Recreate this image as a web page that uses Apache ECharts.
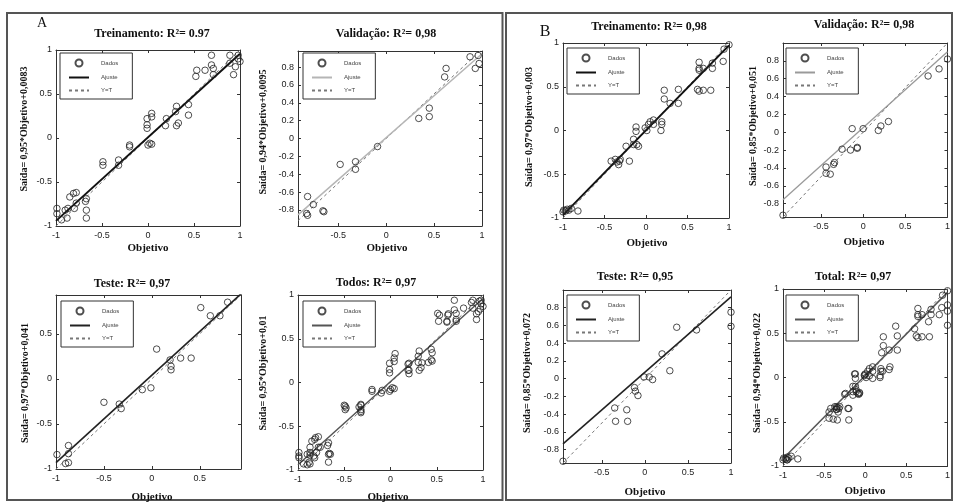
<!DOCTYPE html>
<html><head><meta charset="utf-8">
<script src="https://cdn.jsdelivr.net/npm/echarts@6.0.0/dist/echarts.min.js"></script>
<style>html,body{margin:0;padding:0;background:#fff}#c{width:953px;height:502px}</style>
</head><body><div id="c"></div><script>
// ---------- data ----------
const dadosA1 = [[0.69,0.94],[0.69,0.83],[0.71,0.79],[0.53,0.77],[0.52,0.70],[0.62,0.77],[0.71,0.72],[0.89,0.94],[0.93,0.72],[0.98,0.94],[1.00,0.87],[0.98,0.90],[0.89,0.85],[0.95,0.81],
 [0.31,0.36],[0.30,0.30],[0.33,0.17],[0.31,0.14],[0.20,0.22],[0.19,0.14],[0.44,0.38],[0.44,0.26],[-0.01,0.22],[-0.01,0.15],[-0.01,0.11],[0.04,0.28],[0.04,0.24],[0.02,-0.06],[0.00,-0.08],[0.04,-0.07],
 [-0.20,-0.08],[-0.20,-0.10],[-0.32,-0.25],[-0.32,-0.31],[-0.49,-0.27],[-0.49,-0.31],[-0.81,-0.63],[-0.78,-0.62],[-0.85,-0.67],[-0.78,-0.74],[-0.67,-0.69],[-0.68,-0.72],[-0.67,-0.82],[-0.67,-0.91],
 [-0.99,-0.80],[-0.99,-0.86],[-0.88,-0.91],[-0.87,-0.80],[-0.80,-0.80],[-0.90,-0.82],[-0.94,-0.93]];
const dadosA2 = [[0.875,0.915],[0.93,0.785],[0.97,0.84],[0.96,0.93],[0.625,0.785],[0.61,0.69],[0.45,0.34],[0.45,0.245],[0.34,0.225],[-0.09,-0.09],[-0.32,-0.26],[-0.32,-0.345],[-0.48,-0.29],
 [-0.82,-0.65],[-0.76,-0.74],[-0.66,-0.81],[-0.65,-0.82],[-0.83,-0.84],[-0.82,-0.86]];
const dadosA3 = [[0.79,0.85],[0.51,0.79],[0.61,0.70],[0.71,0.70],[0.05,0.33],[0.19,0.21],[0.20,0.14],[0.20,0.10],[0.30,0.23],[0.41,0.23],[-0.10,-0.12],[-0.01,-0.10],[-0.50,-0.26],[-0.34,-0.28],[-0.32,-0.33],
 [-0.87,-0.74],[-0.99,-0.84],[-0.87,-0.83],[-0.87,-0.93],[-0.90,-0.94]];
const dadosB1 = [[1.00,0.98],[0.94,0.93],[0.93,0.79],[0.80,0.77],[0.80,0.71],[0.69,0.71],[0.64,0.78],[0.64,0.71],[0.64,0.69],[0.62,0.47],[0.64,0.45],[0.78,0.46],[0.69,0.46],
 [0.39,0.47],[0.39,0.31],[0.22,0.46],[0.22,0.36],[0.29,0.31],[0.09,0.12],[0.05,0.10],[0.03,0.07],[0.09,0.07],[0.19,0.10],[0.19,0.07],[0.18,0.00],[-0.01,0.03],[0.01,0.00],[-0.12,0.04],[-0.12,-0.01],
 [-0.15,-0.10],[-0.11,-0.16],[-0.09,-0.18],[-0.15,-0.16],[-0.24,-0.18],[-0.42,-0.35],[-0.37,-0.33],[-0.35,-0.36],[-0.32,-0.35],[-0.33,-0.39],[-0.31,-0.33],[-0.20,-0.35],
 [-0.99,-0.91],[-0.97,-0.92],[-0.93,-0.91],[-0.95,-0.90],[-1.00,-0.93],[-0.82,-0.92],[-0.90,-0.89]];
const dadosB2 = [[1.00,0.82],[0.90,0.71],[0.77,0.63],[0.30,0.12],[0.21,0.07],[0.18,0.02],[0.00,0.04],[-0.13,0.04],[-0.07,-0.17],[-0.07,-0.18],[-0.15,-0.20],[-0.25,-0.19],
 [-0.34,-0.34],[-0.35,-0.36],[-0.44,-0.39],[-0.44,-0.46],[-0.39,-0.47],[-0.95,-0.93]];
const dadosB3 = [[1.00,0.75],[1.00,0.59],[0.37,0.58],[0.60,0.55],[0.20,0.28],[0.29,0.09],[-0.01,0.02],[0.05,0.02],[0.09,-0.01],[-0.12,-0.10],[-0.11,-0.14],[-0.08,-0.19],
 [-0.35,-0.33],[-0.21,-0.35],[-0.34,-0.48],[-0.20,-0.48],[-0.95,-0.93]];
const dadosA4 = dadosA1.concat(dadosA2, dadosA3);   // "Todos" = all samples of A
const dadosB4 = dadosB1.concat(dadosB2, dadosB3);   // "Total" = all samples of B

const titles = ['Treinamento: R²= 0.97','Validação: R²= 0,98','Teste: R²= 0,97','Todos: R²= 0,97',
                'Treinamento: R²= 0,98','Validação: R²= 0,98','Teste: R²= 0,95','Total: R²= 0,97'];
const yNames = ['Saída= 0,95*Objetivo+0,0083','Saída= 0,94*Objetivo+0,0095','Saída= 0,97*Objetivo+0,041','Saída= 0,95*Objetivo+0,01',
                'Saída= 0,97*Objetivo+0,003','Saída= 0,85*Objetivo+0,051','Saída= 0,85*Objetivo+0,072','Saída= 0,94*Objetivo+0,022'];
const slopes = [0.95,0.94,0.97,0.95,0.97,0.85,0.85,0.94];
const intercepts = [0.0083,0.0095,0.041,0.01,0.003,0.051,0.072,0.022];
const axisRanges = [[-1,1,-1,1],[-0.92,1,-0.98,0.98],[-1,0.93,-1,0.93],[-1,1,-1,1],
                    [-1,1,-1,1],[-0.95,1,-0.95,1],[-0.95,1,-0.95,1],[-1,1,-1,1]];
const ticksHalf = [-1,-0.5,0,0.5,1];
const ticksFine = [-0.8,-0.6,-0.4,-0.2,0,0.2,0.4,0.6,0.8];
const xTickLabels = [ticksHalf,[-0.5,0,0.5,1],[-1,-0.5,0,0.5],ticksHalf,ticksHalf,[-0.5,0,0.5,1],[-0.5,0,0.5,1],ticksHalf];
const yTickLabels = [ticksHalf,ticksFine,[-1,-0.5,0,0.5],ticksHalf,ticksHalf,ticksFine,ticksFine,ticksHalf];
const allData = [dadosA1,dadosA2,dadosA3,dadosA4,dadosB1,dadosB2,dadosB3,dadosB4];

// ---------- layout & style ----------
const gridBoxes = [[56,50,184,176],[298,51,184,175],[56,295,185,174],[298,295,185,175],
                   [563,43,166,175],[783,43,166,174],[563,290,168,173],[783,289,166,177]];
const titlePos = [[152,34],[386,34],[132,284],[376,283],[649,27],[864,25],[635,277],[853,277]];
const yNamePos = [[24,129],[263,132],[25,383],[263,373],[529,127],[753,126],[527,373],[757,373]];
const xNamePos = [[148,248],[387,248],[152,497],[388,497],[647,243],[864,242],[645,492],[865,491]];
const legendPos = [[60,53],[303,53],[61,301],[303,301],[567,48],[786,48],[567,295],[786,295]];
const fitColors = ['#111','#b5b5b5','#222','#555','#111','#9a9a9a','#222','#555'];
const fitWidths = [2,1.5,1.6,1.5,2,1.3,1.6,1.5];

const grids=[], xAxes=[], yAxes=[], series=[], legends=[], graphics=[];
const serif = '"Liberation Serif","DejaVu Serif",serif';
const axisLineStyle = {color:'#333', width:1};
const clear = 'rgba(0,0,0,0)';

allData.forEach((pts,i)=>{
  const [gl,gt,gw,gh] = gridBoxes[i];
  grids.push({left:gl, top:gt, width:gw, height:gh});
  const [x0,x1,y0,y1] = axisRanges[i];
  const commonX = {gridIndex:i, type:'value', min:x0, max:x1, splitLine:{show:false},
    axisLine:{show:true, onZero:false, lineStyle:axisLineStyle},
    axisTick:{show:true, inside:true, length:3, customValues:xTickLabels[i], lineStyle:axisLineStyle}};
  xAxes.push(Object.assign({}, commonX, {position:'bottom',
    axisLabel:{customValues:xTickLabels[i], fontSize:9, color:'#222', margin:5, fontFamily:'"Liberation Sans",Arial,sans-serif'}}));
  xAxes.push(Object.assign({}, commonX, {position:'top', axisLabel:{show:false}}));
  const commonY = {gridIndex:i, type:'value', min:y0, max:y1, splitLine:{show:false},
    axisLine:{show:true, onZero:false, lineStyle:axisLineStyle},
    axisTick:{show:true, inside:true, length:3, customValues:yTickLabels[i], lineStyle:axisLineStyle}};
  yAxes.push(Object.assign({}, commonY, {position:'left',
    axisLabel:{customValues:yTickLabels[i], fontSize:9, color:'#222', margin:4, fontFamily:'"Liberation Sans",Arial,sans-serif'}}));
  yAxes.push(Object.assign({}, commonY, {position:'right', axisLabel:{show:false}}));

  const xi = 2*i, yi = 2*i;
  series.push({name:'Dados#'+i, type:'scatter', xAxisIndex:xi, yAxisIndex:yi, data:pts,
    symbol:'circle', symbolSize:6.5,
    itemStyle:{color:'rgba(255,255,255,0)', borderColor:'#222', borderWidth:1}, z:3});
  const s = slopes[i], b = intercepts[i];
  series.push({name:'Ajuste#'+i, type:'line', xAxisIndex:xi, yAxisIndex:yi, symbol:'none', clip:true,
    data:[[x0, s*x0+b],[x1, s*x1+b]], itemStyle:{color:clear, borderColor:clear},
    lineStyle:{color:fitColors[i], width:fitWidths[i]}, z:2});
  series.push({name:'Y=T#'+i, type:'line', xAxisIndex:xi, yAxisIndex:yi, symbol:'none', clip:true,
    data:[[x0,x0],[x1,x1]], itemStyle:{color:clear, borderColor:clear},
    lineStyle:{color:'#777', width:1, type:[3,3]}, z:1});

  legends.push({orient:'vertical', left:legendPos[i][0], top:legendPos[i][1],
    data:['Dados#'+i,'Ajuste#'+i,'Y=T#'+i], formatter:n=>n.split('#')[0], selectedMode:false,
    itemWidth:20, itemHeight:7, itemGap:7, padding:[5.5,14,5.5,8],
    borderColor:'#333', borderWidth:1, backgroundColor:'#fff',
    textStyle:{fontSize:6, color:'#444', padding:[0,0,0,7], fontFamily:'"Liberation Sans",Arial,sans-serif'}});

  graphics.push({type:'text', x:titlePos[i][0], y:titlePos[i][1], z:10,
    style:{text:titles[i], align:'center', verticalAlign:'middle', font:'bold 12px '+serif, fill:'#111'}});
  graphics.push({type:'text', x:yNamePos[i][0], y:yNamePos[i][1], rotation:Math.PI/2, z:10,
    style:{text:yNames[i], align:'center', verticalAlign:'middle', font:'bold 10px '+serif, fill:'#111'}});
  graphics.push({type:'text', x:xNamePos[i][0], y:xNamePos[i][1], z:10,
    style:{text:'Objetivo', align:'center', verticalAlign:'middle', font:'bold 11px '+serif, fill:'#111'}});
});

// panel frames and panel letters
graphics.push({type:'rect', shape:{x:7,y:13,width:495.5,height:487}, style:{fill:'none', stroke:'#555', lineWidth:2}, z:0});
graphics.push({type:'rect', shape:{x:506,y:13,width:446,height:487}, style:{fill:'none', stroke:'#555', lineWidth:2}, z:0});
graphics.push({type:'text', x:42, y:23, style:{text:'A', align:'center', verticalAlign:'middle', font:'14px '+serif, fill:'#111'}});
graphics.push({type:'text', x:545, y:32, style:{text:'B', align:'center', verticalAlign:'middle', font:'16px '+serif, fill:'#111'}});

const chart = echarts.init(document.getElementById('c'));
chart.setOption({
  backgroundColor:'#fff', animation:false,
  grid:grids, xAxis:xAxes, yAxis:yAxes, series:series, legend:legends, graphic:graphics
});
</script></body></html>
